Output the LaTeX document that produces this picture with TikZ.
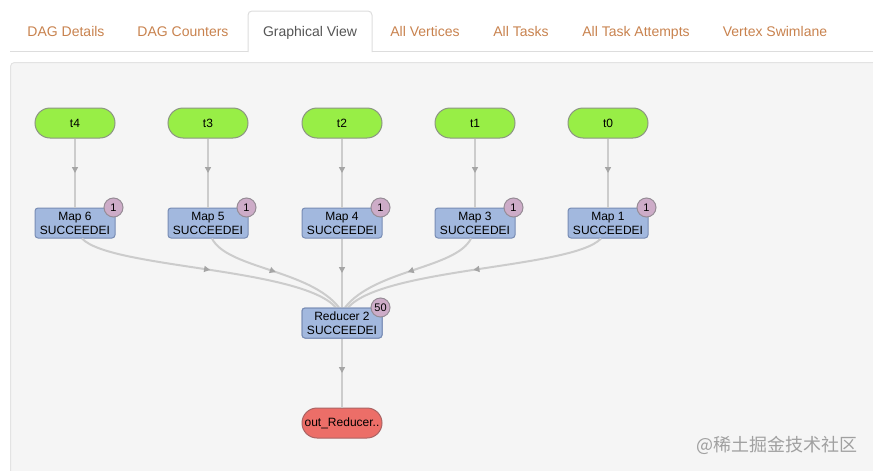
\documentclass[tikz,border=0pt]{standalone}
\usepackage{fontspec}
\setmainfont{Liberation Sans}
\newfontfamily\cjkfont{Noto Sans CJK SC}
\usetikzlibrary{positioning,arrows.meta,decorations.markings}

\definecolor{tabtext}{RGB}{200,130,78}
\definecolor{tabactive}{RGB}{85,85,85}
\definecolor{tabborder}{RGB}{221,221,221}
\definecolor{panelfill}{RGB}{245,245,245}
\definecolor{panelborder}{RGB}{227,227,227}
\definecolor{srcfill}{RGB}{152,238,70}
\definecolor{srcborder}{RGB}{140,150,130}
\definecolor{vxfill}{RGB}{162,184,222}
\definecolor{vxborder}{RGB}{120,140,180}
\definecolor{badgefill}{RGB}{205,172,200}
\definecolor{badgeborder}{RGB}{150,140,150}
\definecolor{sinkfill}{RGB}{236,110,104}
\definecolor{sinkborder}{RGB}{170,100,100}
\definecolor{edgecol}{RGB}{204,204,204}
\definecolor{tipcol}{RGB}{165,165,165}
\definecolor{marktext}{RGB}{160,160,160}

\tikzset{
  tab/.style={text=tabtext, font=\fontsize{14}{16}\selectfont, inner sep=0pt, anchor=base},
  source/.style={draw=srcborder, fill=srcfill, line width=1pt, rounded corners=15pt,
    minimum width=80pt, minimum height=30pt, inner sep=0pt, font=\fontsize{12}{14}\selectfont},
  vertex/.style={draw=vxborder, fill=vxfill, line width=1pt, rounded corners=3pt,
    minimum width=80pt, minimum height=30pt, inner sep=0pt, align=center,
    font=\fontsize{12}{14}\selectfont},
  badge/.style={circle, draw=badgeborder, fill=badgefill, line width=1pt,
    minimum size=19pt, inner sep=0pt, font=\fontsize{11}{12}\selectfont},
  sink/.style={draw=sinkborder, fill=sinkfill, line width=1pt, rounded corners=15pt,
    minimum width=80pt, minimum height=30pt, inner sep=0pt, font=\fontsize{12}{14}\selectfont},
  edge/.style={draw=edgecol, line width=2pt, postaction={decorate},
    decoration={markings, mark=at position 0.5 with {\arrow{Triangle[length=6pt,width=6pt,color=tipcol]}}}},
}

\begin{document}
\begin{tikzpicture}[x=1pt,y=-1pt]
  \useasboundingbox (0,0) rectangle (873,471);
  \clip (0,0) rectangle (873,471);

  % tab bar
  \draw [tabborder, line width=1pt] (10,51.5)--(873,51.5);
  \fill [white] (248,11) rectangle (372,52.5);
  \draw [tabborder, line width=1pt, rounded corners=4pt] (248,52)--(248,11)--(372,11)--(372,52);

  \node [tab] (details)  at (66,36)  {DAG Details};
  \node [tab] (counters) at (183,36) {DAG Counters};
  \node [tab, text=tabactive] (graphical) at (310,36) {Graphical View};
  \node [tab] (vertices) at (425,36) {All Vertices};
  \node [tab] (tasks)    at (521,36) {All Tasks};
  \node [tab] (attempts) at (636,36) {All Task Attempts};
  \node [tab] (swimlane) at (775,36) {Vertex Swimlane};

  % panel
  \draw [panelborder, fill=panelfill, line width=1pt, rounded corners=4pt] (10.5,62.5) rectangle (900,500);

  % sources
  \node [source] (t4) at (75,123)  {t4};
  \node [source] (t3) at (208,123) {t3};
  \node [source] (t2) at (342,123) {t2};
  \node [source] (t1) at (475,123) {t1};
  \node [source] (t0) at (608,123) {t0};

  % maps
  \node [vertex] (m6) at (75,223)  {Map 6\\SUCCEEDEI};
  \node [vertex] (m5) at (208,223) {Map 5\\SUCCEEDEI};
  \node [vertex] (m4) at (342,223) {Map 4\\SUCCEEDEI};
  \node [vertex] (m3) at (475,223) {Map 3\\SUCCEEDEI};
  \node [vertex] (m1) at (608,223) {Map 1\\SUCCEEDEI};

  % reducer and output
  \node [vertex] (red) at (342,323) {Reducer 2\\SUCCEEDEI};
  \node [sink] (out) at (342,423) {out\_Reducer..};

  % edges
  \draw [edge] (t4) -- (m6);
  \draw [edge] (t3) -- (m5);
  \draw [edge] (t2) -- (m4);
  \draw [edge] (t1) -- (m3);
  \draw [edge] (t0) -- (m1);

  \draw [edge] ([xshift=7pt]m6.south) .. controls +(28,30) and +(-36,-40) .. ([xshift=-6pt]red.north);
  \draw [edge] ([xshift=4pt]m5.south) .. controls +(15,30) and +(-30,-38) .. ([xshift=-3pt]red.north);
  \draw [edge] (m4) -- (red);
  \draw [edge] ([xshift=-4pt]m3.south) .. controls +(-15,30) and +(30,-38) .. ([xshift=3pt]red.north);
  \draw [edge] ([xshift=-7pt]m1.south) .. controls +(-28,30) and +(36,-40) .. ([xshift=6pt]red.north);
  \draw [edge] (red) -- (out);

  % redraw nodes over edge ends
  \node [vertex] at (red) {Reducer 2\\SUCCEEDEI};

  % badges
  \node [badge] (b6) at ([xshift=-2pt]m6.north east) {1};
  \node [badge] (b5) at ([xshift=-2pt]m5.north east) {1};
  \node [badge] (b4) at ([xshift=-2pt]m4.north east) {1};
  \node [badge] (b3) at ([xshift=-2pt]m3.north east) {1};
  \node [badge] (b1) at ([xshift=-2pt]m1.north east) {1};
  \node [badge] (bred) at ([xshift=-2pt]red.north east) {50};

  % watermark
  \node [text=marktext, font=\cjkfont\fontsize{18}{20}\selectfont] (mark) at (777,445) {@稀土掘金技术社区};
\end{tikzpicture}
\end{document}
